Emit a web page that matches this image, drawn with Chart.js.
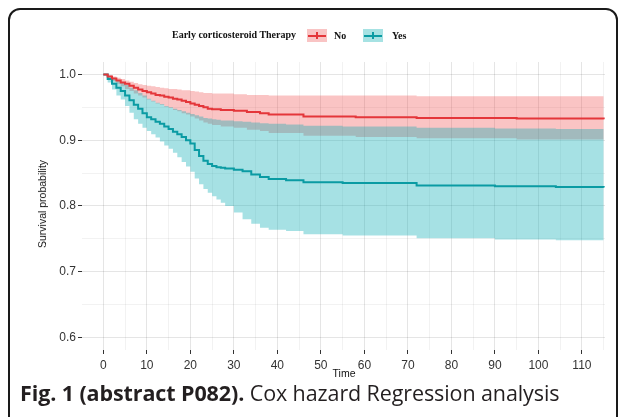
<!DOCTYPE html>
<html><head><meta charset="utf-8">
<script src="https://cdn.jsdelivr.net/npm/chart.js@4.4.1/dist/chart.umd.min.js"></script>
<style>
html,body{margin:0;padding:0;background:#fff;}
body{width:627px;height:417px;overflow:hidden;position:relative;}
#frame{position:absolute;left:8px;top:8px;width:610px;height:440px;box-sizing:border-box;border:2px solid #1a1a1a;border-radius:12px;}
#c{position:absolute;left:0;top:0;}
.lg{position:absolute;font-family:"Liberation Serif",serif;font-weight:bold;font-size:10px;color:#111;line-height:12px;white-space:nowrap;}
.key{position:absolute;width:20px;height:13px;}
.key .h{position:absolute;left:1px;right:1px;top:5.5px;height:2px;}
.key .v{position:absolute;left:9px;width:2px;top:3px;height:7px;}
.ax{position:absolute;font-family:"Liberation Sans",Arial,sans-serif;font-size:10.5px;color:#111;white-space:nowrap;line-height:12px;transform:translate(-50%,-50%);}
#cap{position:absolute;left:20px;top:378px;font-family:"Open Sans",sans-serif;font-size:21.5px;color:#231f20;white-space:nowrap;letter-spacing:-0.1px;}
</style></head>
<body>
<div id="frame"></div>
<canvas id="c" width="627" height="417"></canvas>
<div class="lg" id="lgTitle" style="left:172px;top:29px;"></div>
<div class="key" style="left:307px;top:29px;background:#f9c4c4;"><div class="h" style="background:#e4363a"></div><div class="v" style="background:#e4363a"></div></div>
<div class="lg" id="lgNo" style="left:334px;top:30px;"></div>
<div class="key" style="left:363px;top:29px;background:#a6e2e3;"><div class="h" style="background:#0a9ba3"></div><div class="v" style="background:#0a9ba3"></div></div>
<div class="lg" id="lgYes" style="left:392px;top:30px;"></div>
<div class="ax" id="xTitle" style="left:344px;top:373px;"></div>
<div class="ax" id="yTitle" style="left:42px;top:204px;transform:translate(-50%,-50%) rotate(-90deg);"></div>
<div id="cap"><b>Fig. 1 (abstract P082).</b> Cox hazard Regression analysis</div>
<script>
// ---- data ----
const seriesNames = ['No', 'Yes'];
const legendTitle = 'Early corticosteroid Therapy';

const timeNo = [0,1,2,3,4,5,6,7,8,9,10,11,12,13,14,15,16,17,18,19,20,21,22,23,24,25,27,30,33,36,38,46,58,72,95,115];
const survNo = [1.000,.997,.994,.991,.988,.986,.983,.980,.977,.975,.973,.971,.969,.968,.966,.965,.963,.962,.960,.958,.956,.954,.952,.950,.948,.947,.946,.945,.943,.941,.939,.936,.935,.934,.933,.932];
const upperNo = [1.000,.999,.997,.995,.993,.991,.989,.987,.985,.984,.983,.982,.981,.980,.979,.978,.978,.977,.976,.976,.975,.974,.973,.972,.972,.971,.971,.970,.969,.969,.968,.968,.968,.967,.967,.967];
const lowerNo = [1.000,.995,.990,.986,.982,.978,.975,.971,.968,.965,.962,.959,.956,.954,.951,.949,.946,.944,.941,.939,.936,.933,.930,.927,.925,.923,.921,.919,.916,.914,.911,.907,.905,.903,.901,.900];

const timeYes = [0,1,2,3,4,5,6,7,8,9,10,11,12,13,14,15,16,17,18,19,20,21,22,23,24,25,26,27,28,30,32,34,36,38,42,46,55,72,90,104,115];
const survYes = [1.000,.993,.986,.980,.975,.968,.961,.954,.948,.941,.935,.932,.928,.925,.921,.917,.913,.909,.905,.900,.895,.885,.876,.869,.864,.861,.859,.858,.857,.855,.853,.848,.844,.841,.839,.836,.835,.831,.830,.829,.828];
const upperYes = [1.000,.998,.995,.991,.988,.984,.980,.976,.972,.968,.963,.960,.957,.955,.952,.950,.948,.946,.944,.942,.940,.938,.936,.934,.933,.932,.931,.930,.930,.929,.928,.927,.926,.925,.924,.922,.921,.919,.918,.917,.917];
const lowerYes = [1.000,.988,.977,.968,.962,.952,.942,.932,.925,.919,.914,.909,.904,.898,.892,.887,.881,.874,.867,.860,.852,.842,.833,.826,.820,.815,.810,.805,.800,.790,.780,.773,.767,.764,.762,.757,.755,.751,.749,.748,.747];

const xMajorTicks = [0,10,20,30,40,50,60,70,80,90,100,110];
const xMinorTicks = [5,15,25,35,45,55,65,75,85,95,105,115];
const yMajorTicks = [0.6,0.7,0.8,0.9,1.0];
const yMinorTicks = [0.65,0.75,0.85,0.95];
const xTitle = 'Time';
const yTitle = 'Survival probability';

document.getElementById('lgTitle').textContent = legendTitle;
document.getElementById('lgNo').textContent = seriesNames[0];
document.getElementById('lgYes').textContent = seriesNames[1];
document.getElementById('xTitle').textContent = xTitle;
document.getElementById('yTitle').textContent = yTitle;

// ---- styles ----
const RED = '#e4363a', TEAL = '#0a9ba3';
const RED_FILL = 'rgba(240,60,60,0.30)', TEAL_FILL = 'rgba(0,168,178,0.35)';
const pts = (t, v) => t.map((x, i) => ({x: x, y: v[i]}));
const lineDs = (label, t, v, col) => ({label, data: pts(t, v), borderColor: col, borderWidth: 2, pointRadius: 0, stepped: true, fill: false, tension: 0});
const bandDs = (label, t, v, fill, target) => ({label, data: pts(t, v), borderWidth: 0, borderColor: 'rgba(0,0,0,0)', pointRadius: 0, stepped: true, backgroundColor: fill, fill: target});

const isMajor = (arr, v) => arr.some(m => Math.abs(m - v) < 1e-6);
const tickFont = {family: 'Liberation Sans, Arial, sans-serif', size: 12};

new Chart(document.getElementById('c'), {
  type: 'line',
  data: {
    datasets: [
      lineDs(seriesNames[0], timeNo, survNo, RED),
      lineDs(seriesNames[1], timeYes, survYes, TEAL),
      bandDs('Yes upper', timeYes, upperYes, TEAL_FILL, 3),
      bandDs('Yes lower', timeYes, lowerYes, 'rgba(0,0,0,0)', false),
      bandDs('No upper', timeNo, upperNo, RED_FILL, 5),
      bandDs('No lower', timeNo, lowerNo, 'rgba(0,0,0,0)', false)
    ]
  },
  options: {
    responsive: false,
    animation: false,
    devicePixelRatio: 1,
    layout: {padding: {left: 35, top: 62, right: 22, bottom: 39}},
    plugins: {legend: {display: false}, tooltip: {enabled: false}, filler: {drawTime: 'beforeDatasetsDraw'}},
    scales: {
      x: {
        type: 'linear', min: -4.9, max: 115.3,
        afterBuildTicks: s => { s.ticks = xMajorTicks.concat(xMinorTicks).sort((a,b)=>a-b).map(v => ({value: v})); },
        afterFit: s => { s.height = 28; },
        ticks: {
          autoSkip: false, maxRotation: 0, padding: 4, color: '#333', font: tickFont,
          callback: v => isMajor(xMajorTicks, v) ? String(v) : ''
        },
        grid: {
          lineWidth: 1, tickLength: 4,
          color: c => isMajor(xMajorTicks, c.tick.value) ? 'rgba(0,0,0,0.10)' : 'rgba(0,0,0,0.05)',
          tickColor: c => isMajor(xMajorTicks, c.tick.value) ? '#333' : 'rgba(0,0,0,0)'
        },
        border: {display: false}
      },
      y: {
        type: 'linear', min: 0.581, max: 1.019,
        afterBuildTicks: s => { s.ticks = yMajorTicks.concat(yMinorTicks).sort((a,b)=>a-b).map(v => ({value: v})); },
        afterFit: s => { s.width = 47; },
        ticks: {
          autoSkip: false, padding: 2, color: '#333', font: tickFont,
          callback: v => isMajor(yMajorTicks, v) ? v.toFixed(1) : ''
        },
        grid: {
          lineWidth: 1, tickLength: 4,
          color: c => isMajor(yMajorTicks, c.tick.value) ? 'rgba(0,0,0,0.10)' : 'rgba(0,0,0,0.05)',
          tickColor: c => isMajor(yMajorTicks, c.tick.value) ? '#333' : 'rgba(0,0,0,0)'
        },
        border: {display: false}
      }
    }
  }
});
</script>
</body></html>
